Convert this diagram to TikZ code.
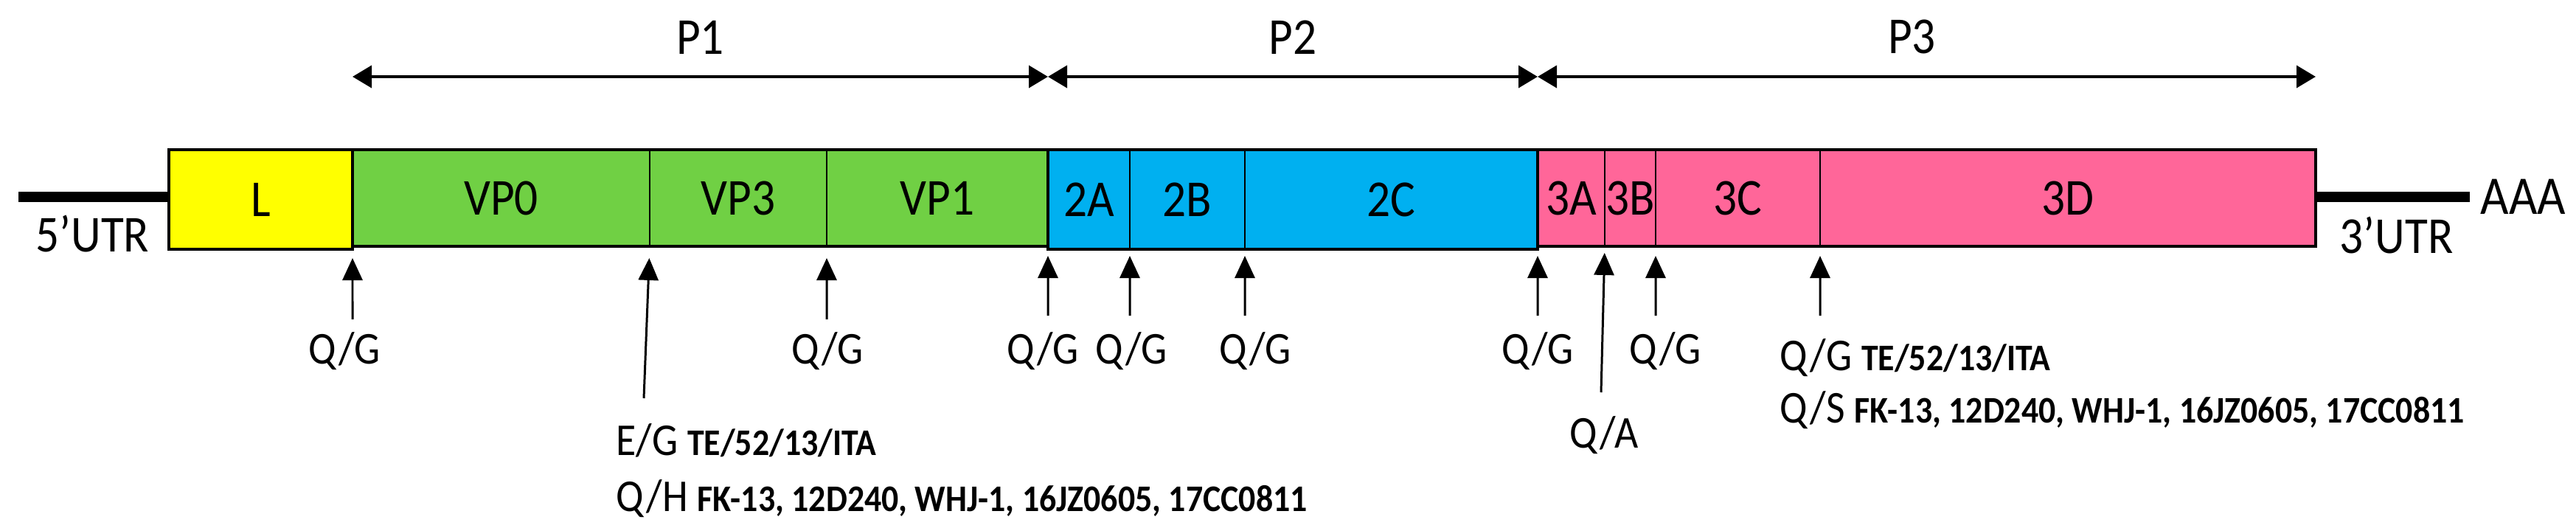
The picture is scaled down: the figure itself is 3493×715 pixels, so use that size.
\documentclass[tikz,border=0pt]{standalone}
\usepackage{fontspec}
\setmainfont{Carlito}[FakeStretch=0.9]
\usetikzlibrary{arrows.meta,positioning}
\definecolor{leadY}{HTML}{FFFF00}
\definecolor{pOneG}{HTML}{70D044}
\definecolor{pTwoB}{HTML}{00B0F0}
\definecolor{pThreeP}{HTML}{FF6699}
\newcommand\strain[1]{{\fontsize{14.5}{17}\selectfont\bfseries #1}}

\begin{document}
\begin{tikzpicture}[x=0.1mm, y=-0.1mm,
	seg/.style={draw, line width=0.6pt, fill=#1, outer sep=0pt, inner xsep=-1mm, anchor=north west, font=\fontsize{20}{24}\selectfont},
	grp/.style={line width=1.1pt},
	cut/.style={-{Triangle[length=3mm,width=2.7mm]}, line width=0.85pt},
	span/.style={{Triangle[length=2.6mm,width=3mm]}-{Triangle[length=2.6mm,width=3mm]}, line width=1.1pt},
	site/.style={inner sep=0pt, anchor=base, font=\fontsize{17.6}{21}\selectfont},
	tag/.style={inner sep=0pt, font=\fontsize{20}{24}\selectfont},
	utr/.style={line width=1.4mm}]
	\useasboundingbox (0,0) rectangle (3493,715);

	% genome segments
	\node[seg=leadY, minimum width=24.9mm, minimum height=13.5mm] (L) at (229,203) {L};
	\node[seg=pOneG, minimum width=40.3mm, minimum height=13.1mm] (VP0) at (L.north east) {VP0};
	\node[seg=pOneG, minimum width=24mm, minimum height=13.1mm] (VP3) at (VP0.north east) {VP3};
	\node[seg=pOneG, minimum width=30mm, minimum height=13.1mm] (VP1) at (VP3.north east) {VP1};
	\node[seg=pTwoB, minimum width=11.1mm, minimum height=13.5mm] (A2) at (VP1.north east) {2A};
	\node[seg=pTwoB, minimum width=15.6mm, minimum height=13.5mm] (B2) at (A2.north east) {2B};
	\node[seg=pTwoB, minimum width=39.7mm, minimum height=13.5mm] (C2) at (B2.north east) {2C};
	\node[seg=pThreeP, minimum width=9.1mm, minimum height=13.1mm] (A3) at (C2.north east) {3A};
	\node[seg=pThreeP, minimum width=6.9mm, minimum height=13.1mm] (B3) at (A3.north east) {3B};
	\node[seg=pThreeP, minimum width=22.3mm, minimum height=13.1mm] (C3) at (B3.north east) {3C};
	\node[seg=pThreeP, minimum width=67.2mm, minimum height=13.1mm] (D3) at (C3.north east) {3D};

	\draw[grp] (L.north west) rectangle (L.south east);
	\draw[grp] (VP0.north west) rectangle (VP1.south east);
	\draw[grp] (A2.north west) rectangle (C2.south east);
	\draw[grp] (A3.north west) rectangle (D3.south east);

	% UTRs
	\coordinate (utr5) at ([xshift=-20.4mm,yshift=0.35mm]L.west);
	\coordinate (utr3) at ([xshift=20.9mm,yshift=0.15mm]D3.east);
	\draw[utr] (utr5) -- (utr5 -| L.west);
	\draw[utr] (D3.east |- utr3) -- (utr3);
	\node[tag, anchor=west, font=\fontsize{21}{25}\selectfont] (aaa) at ([xshift=1.4mm]utr3) {AAA};
	\node[tag, anchor=base east] (utr5lab) at ([xshift=-2.6mm,yshift=-0.3mm]L.south west) {5’UTR};
	\node[tag, anchor=base west] (utr3lab) at ([xshift=3.2mm,yshift=-0.9mm]D3.south east) {3’UTR};

	% polyproteins
	\coordinate (P1s) at ([yshift=9.9mm]L.north east);
	\coordinate (P1e) at ([yshift=9.9mm]VP1.north east);
	\coordinate (P2e) at ([yshift=9.9mm]C2.north east);
	\coordinate (P3e) at ([yshift=9.9mm]D3.north east);
	\draw[span] (P1s) -- (P1e) node[tag, midway, above=2.9mm] (P1) {P1};
	\draw[span] (P1e) -- (P2e) node[tag, midway, above=2.9mm] (P2) {P2};
	\draw[span] (P2e) -- (P3e) node[tag, midway, above=2.9mm, xshift=-2mm] (P3) {P3};

	% cleavage sites
	\coordinate (t1) at (478,433);
	\coordinate (t2) at (873,540);
	\coordinate (t3) at (1121,433);
	\coordinate (t4) at (1421,428);
	\coordinate (t5) at (1532,428);
	\coordinate (t6) at (1688,428);
	\coordinate (t7) at (2085,428);
	\coordinate (t8) at (2171,532);
	\coordinate (t9) at (2245,428);
	\coordinate (t10) at (2468,428);
	\draw[cut, shorten >=1.2mm] (t1) -- (L.south east);
	\draw[cut, shorten >=1.6mm] (t2) -- (VP0.south east);
	\draw[cut, shorten >=1.6mm] (t3) -- (VP3.south east);
	\draw[cut, shorten >=0.9mm] (t4) -- (A2.south west);
	\draw[cut, shorten >=0.9mm] (t5) -- (A2.south east);
	\draw[cut, shorten >=0.9mm] (t6) -- (B2.south east);
	\draw[cut, shorten >=0.9mm] (t7) -- (C2.south east);
	\draw[cut, shorten >=0.9mm] (t8) -- (A3.south east);
	\draw[cut, shorten >=1.3mm] (t9) -- (B3.south east);
	\draw[cut, shorten >=1.3mm] (t10) -- (C3.south east);

	\node[site] (qg1) at (467,493) {Q/G};
	\node[site, anchor=base west] (eg) at (835,617) {E/G \strain{TE/52/13/ITA}};
	\node[site, anchor=base west] (qh) at ([yshift=-7.6mm]eg.base west) {Q/H \strain{FK-13, 12D240, WHJ-1, 16JZ0605, 17CC0811}};
	\node[site] (qg2) at (1122,493) {Q/G};
	\node[site] (qg3) at (1414,493) {Q/G};
	\node[site] (qg4) at (1534,493) {Q/G};
	\node[site] (qg5) at (1702,493) {Q/G};
	\node[site] (qg6) at (2085,493) {Q/G};
	\node[site] (qa) at (2175,607) {Q/A};
	\node[site] (qg7) at (2258,493) {Q/G};
	\node[site, anchor=base west] (qgte) at (2413,502) {Q/G \strain{TE/52/13/ITA}};
	\node[site, anchor=base west] (qs) at ([yshift=-7.1mm]qgte.base west) {Q/S \strain{FK-13, 12D240, WHJ-1, 16JZ0605, 17CC0811}};
\end{tikzpicture}
\end{document}
